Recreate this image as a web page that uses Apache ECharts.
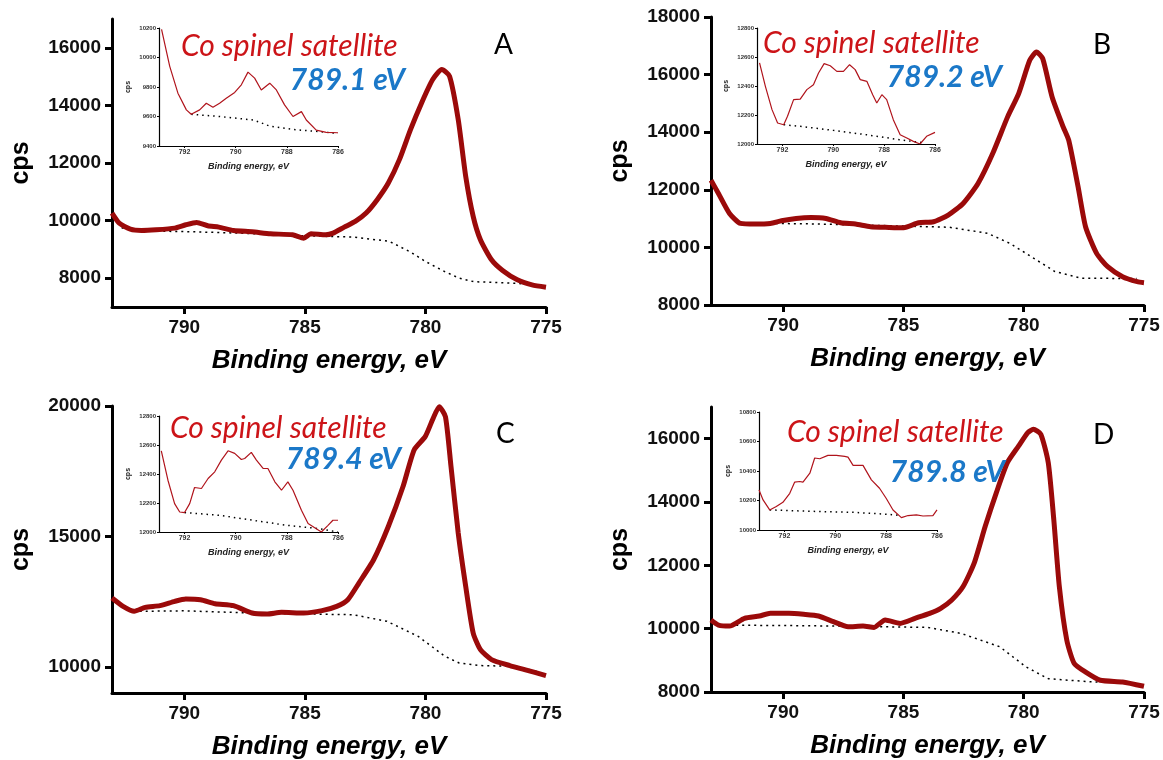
<!DOCTYPE html>
<html>
<head>
    <meta charset="utf-8" />
    <title>Co 2p3/2 XPS spectra</title>
    <script src="https://cdn.jsdelivr.net/npm/echarts@6/dist/echarts.min.js"></script>
    <style type="text/css">
        * { margin: 0; padding: 0; }
        html, body { width: 100%; height: 100%; background: #fff; }
        #chart { width: 1163px; height: 760px; }
    </style>
</head>
<body>
    <div id="chart"></div>
</body>
</html>
<script type="text/javascript">

    // main spectra, [binding energy eV, cps]
    var mainA = [[793,10261],[792.7,9913],[792.24,9704],[791.78,9658],[791.17,9681],[790.4,9739],[789.94,9855],[789.49,9936],[789.03,9820],[788.57,9774],[787.96,9658],[787.19,9612],[786.43,9542],[785.51,9507],[785.05,9391],[784.75,9542],[784.14,9507],[783.83,9565],[783.37,9774],[782.91,9971],[782.46,10261],[782.0,10725],[781.54,11304],[781.08,12116],[780.62,13159],[780.16,14087],[779.7,14899],[779.32,15246],[779.0,15014],[778.64,13507],[778.33,11536],[778.02,10145],[777.72,9333],[777.26,8638],[776.8,8267],[776.19,7942],[775.58,7768],[775.0,7687]];
    var bgA = [[792.6,9750],[792.0,9640],[790.0,9620],[787.5,9560],[785.0,9470],[783.0,9430],[781.5,9280],[780.6,8900],[780.0,8580],[779.2,8230],[778.6,8000],[778.0,7880],[776.2,7820],[775.4,7780]];
    var mainB = [[793,12335],[792.69,11873],[792.23,11179],[791.77,10832],[791.15,10809],[790.53,10832],[790.07,10925],[789.46,11006],[788.84,11040],[788.22,11006],[787.61,10855],[786.99,10809],[786.37,10717],[785.6,10694],[784.99,10682],[784.37,10855],[783.75,10890],[783.14,11121],[782.52,11526],[781.9,12220],[781.29,13260],[780.67,14532],[780.21,15341],[779.75,16497],[779.47,16786],[779.21,16555],[778.82,15225],[778.36,14185],[778.13,13723],[777.74,12104],[777.43,10717],[776.97,9792],[776.51,9329],[775.89,8983],[775.28,8809],[775.0,8775]];
    var bgB = [[791.8,10840],[789.0,10820],[786.0,10760],[783.1,10700],[781.5,10490],[780.6,10150],[779.9,9790],[778.7,9160],[777.6,8930],[775.3,8920]];
    var mainC = [[793,12640],[792.54,12321],[792.08,12130],[791.62,12283],[791.01,12347],[790.4,12513],[789.94,12602],[789.33,12577],[788.72,12423],[787.96,12347],[787.19,12066],[786.58,12028],[785.97,12092],[785.05,12066],[784.29,12156],[783.68,12321],[783.22,12577],[782.76,13214],[782.15,14107],[781.54,15383],[780.93,16913],[780.47,18316],[780.01,18827],[779.71,19464],[779.43,19974],[779.17,19592],[778.94,17679],[778.64,15128],[778.33,13087],[778.02,11301],[777.72,10663],[777.26,10281],[776.5,10051],[775.89,9898],[775.0,9668]];
    var bgC = [[792.1,12130],[790.0,12150],[787.0,12060],[785.0,12030],[783.0,12000],[781.6,11750],[780.3,11170],[779.2,10410],[778.6,10150],[777.7,10050],[776.2,10020],[775.3,9800]];
    var mainD = [[793,10273],[792.69,10114],[792.23,10082],[791.61,10326],[790.99,10400],[790.53,10484],[789.76,10484],[789.15,10452],[788.53,10400],[787.91,10220],[787.3,10061],[786.68,10082],[786.22,10040],[785.76,10273],[785.14,10167],[784.52,10326],[783.91,10484],[783.45,10643],[782.99,10907],[782.52,11330],[782.06,12070],[781.6,13233],[781.14,14290],[780.68,15241],[780.21,15770],[779.83,16192],[779.6,16298],[779.29,16140],[778.98,15241],[778.75,13444],[778.52,11330],[778.21,9638],[777.9,8899],[777.44,8634],[776.82,8370],[775.89,8317],[775.0,8180]];
    var bgD = [[792.7,10110],[790.0,10100],[787.6,10080],[784.0,10040],[782.6,9850],[781.0,9430],[779.9,8790],[778.98,8420],[777.2,8320],[776.0,8317]];

    // inset (satellite region), [binding energy eV, cps]
    var insetA = [[792.9,10190],[792.58,9940],[792.26,9758],[791.93,9645],[791.74,9615],[791.41,9645],[791.15,9690],[790.89,9663],[790.63,9690],[790.37,9724],[790.04,9763],[789.78,9815],[789.52,9901],[789.26,9860],[789.0,9780],[788.67,9826],[788.41,9780],[788.09,9679],[787.76,9600],[787.43,9633],[787.24,9576],[786.85,9508],[786.46,9492],[786.0,9490]];
    var insetBgA = [[791.74,9615],[790.63,9600],[789.3,9576],[788.67,9535],[787.76,9512],[786.7,9497],[786.0,9485]];
    var insetB = [[792.9,12559],[792.67,12398],[792.41,12237],[792.19,12145],[791.95,12133],[791.8,12191],[791.56,12306],[791.3,12310],[791.04,12375],[790.78,12409],[790.58,12490],[790.36,12554],[790.12,12540],[789.86,12501],[789.6,12501],[789.36,12547],[789.14,12513],[788.94,12444],[788.68,12432],[788.45,12340],[788.29,12283],[788.09,12340],[787.9,12306],[787.64,12168],[787.37,12064],[787.11,12041],[786.85,12018],[786.59,12000],[786.33,12053],[786.0,12080]];
    var insetBgB = [[791.95,12133],[791.3,12122],[790.0,12094],[788.7,12064],[787.4,12030],[786.4,12007]];
    var insetC = [[792.91,12560],[792.65,12357],[792.39,12196],[792.19,12138],[792.0,12134],[791.8,12196],[791.61,12307],[791.34,12300],[791.08,12369],[790.82,12415],[790.56,12496],[790.3,12560],[790.04,12542],[789.78,12500],[789.65,12507],[789.39,12549],[789.19,12496],[788.93,12438],[788.74,12438],[788.47,12346],[788.21,12288],[787.96,12346],[787.76,12288],[787.43,12150],[787.17,12058],[786.85,12023],[786.65,12000],[786.39,12046],[786.2,12081],[786.0,12081]];
    var insetBgC = [[792.0,12134],[790.63,12115],[789.33,12081],[788.0,12046],[786.72,12023],[786.0,12000]];
    var insetD = [[793,10272],[792.84,10204],[792.58,10136],[792.32,10159],[792.06,10188],[791.79,10249],[791.6,10324],[791.4,10329],[791.27,10324],[791.0,10385],[790.81,10488],[790.61,10483],[790.29,10506],[789.96,10506],[789.63,10499],[789.5,10494],[789.3,10438],[788.91,10438],[788.58,10340],[788.26,10283],[788.0,10215],[787.73,10136],[787.4,10084],[787.14,10098],[786.81,10102],[786.55,10095],[786.16,10098],[786.0,10136]];
    var insetBgD = [[792.58,10136],[790.61,10125],[789.3,10120],[788.0,10107],[787.4,10098]];

    // tick labels
    var xTicks = [790, 785, 780, 775];
    var insetXTicks = [792, 790, 788, 786];
    var yTicksA = [8000, 10000, 12000, 14000, 16000];
    var yTicksB = [8000, 10000, 12000, 14000, 16000, 18000];
    var yTicksC = [10000, 15000, 20000];
    var yTicksD = [8000, 10000, 12000, 14000, 16000];

    // texts
    var panelLetters = ['A', 'B', 'C', 'D'];
    var satellitePos = ['789.1 eV', '789.2 eV', '789.4 eV', '789.8 eV'];

    var panels = [
        { main: mainA, bg: bgA, inset: insetA, insetBg: insetBgA, yTicks: yTicksA, yMin: 7000, yMax: 17000,
          grid: { left: 112, top: 19, width: 434, height: 288 },
          insetGrid: { left: 159, top: 28, width: 179, height: 118 }, insetMin: 9400, insetMax: 10200,
          red: [181, 46], blue: [405, 80], letter: [494, 45] },
        { main: mainB, bg: bgB, inset: insetB, insetBg: insetBgB, yTicks: yTicksB, yMin: 8000, yMax: 18000,
          grid: { left: 711, top: 17, width: 433, height: 288 },
          insetGrid: { left: 757, top: 28, width: 178, height: 116 }, insetMin: 12000, insetMax: 12800,
          red: [763, 43], blue: [1002, 77], letter: [1093, 45] },
        { main: mainC, bg: bgC, inset: insetC, insetBg: insetBgC, yTicks: yTicksC, yMin: 9000, yMax: 20000,
          grid: { left: 112, top: 406, width: 434, height: 287 },
          insetGrid: { left: 159, top: 416, width: 179, height: 116 }, insetMin: 12000, insetMax: 12800,
          red: [170, 428], blue: [401, 459], letter: [496, 434] },
        { main: mainD, bg: bgD, inset: insetD, insetBg: insetBgD, yTicks: yTicksD, yMin: 8000, yMax: 17000,
          grid: { left: 711, top: 407, width: 433, height: 285 },
          insetGrid: { left: 759, top: 412, width: 178, height: 118 }, insetMin: 10000, insetMax: 10800,
          red: [787, 432], blue: [1005, 472], letter: [1093, 435] }
    ];

    function plain(v) { return String(v); }

    var grids = [], xAxes = [], yAxes = [], series = [], graphics = [];

    panels.forEach(function (p, i) {
        var g = grids.length;
        grids.push({ left: p.grid.left, top: p.grid.top, width: p.grid.width, height: p.grid.height, outerBoundsMode: 'none' });
        xAxes.push({
            gridIndex: g, type: 'value', min: 775, max: 793, inverse: true,
            axisLine: { show: true, lineStyle: { color: '#000', width: 3 } },
            axisTick: { show: true, length: 7, lineStyle: { color: '#000', width: 3 }, customValues: xTicks },
            axisLabel: { customValues: xTicks, formatter: plain, color: '#111', fontSize: 19, fontWeight: 'bold', fontFamily: 'Liberation Sans', margin: 11 },
            splitLine: { show: false },
            name: 'Binding energy, eV', nameLocation: 'middle', nameGap: 41,
            nameTextStyle: { color: '#000', fontSize: 26, fontWeight: 'bold', fontStyle: 'italic', fontFamily: 'Liberation Sans' }
        });
        yAxes.push({
            gridIndex: g, type: 'value', min: p.yMin, max: p.yMax,
            axisLine: { show: true, lineStyle: { color: '#000', width: 3 } },
            axisTick: { show: true, length: 7, lineStyle: { color: '#000', width: 3 }, customValues: p.yTicks },
            axisLabel: { customValues: p.yTicks, formatter: plain, color: '#111', fontSize: 19, fontWeight: 'bold', fontFamily: 'Liberation Sans', margin: 11 },
            splitLine: { show: false },
            name: 'cps', nameLocation: 'middle', nameRotate: 90, nameGap: 78,
            nameTextStyle: { color: '#000', fontSize: 25, fontWeight: 'bold', fontFamily: 'Liberation Sans' }
        });
        series.push({
            type: 'line', xAxisIndex: g, yAxisIndex: g, data: p.bg, showSymbol: false, z: 2,
            lineStyle: { color: '#000', width: 1.5, type: [2, 4] }
        });
        series.push({
            type: 'line', xAxisIndex: g, yAxisIndex: g, data: p.main, showSymbol: false, z: 3,
            smooth: 0.2, lineStyle: { color: '#9b0a0a', width: 5 }
        });

        // inset
        var h = grids.length;
        grids.push({ left: p.insetGrid.left, top: p.insetGrid.top, width: p.insetGrid.width, height: p.insetGrid.height, outerBoundsMode: 'none' });
        xAxes.push({
            gridIndex: h, type: 'value', min: 786, max: 793, inverse: true,
            axisLine: { show: true, lineStyle: { color: '#000', width: 1.2 } },
            axisTick: { show: true, length: 2, lineStyle: { color: '#000' }, customValues: insetXTicks },
            axisLabel: { customValues: insetXTicks, formatter: plain, color: '#333', fontSize: 7, fontWeight: 'bold', fontFamily: 'Liberation Sans', margin: 3 },
            splitLine: { show: false },
            name: 'Binding energy, eV', nameLocation: 'middle', nameGap: 16,
            nameTextStyle: { color: '#222', fontSize: 9, fontWeight: 'bold', fontStyle: 'italic', fontFamily: 'Liberation Sans' }
        });
        yAxes.push({
            gridIndex: h, type: 'value', min: p.insetMin, max: p.insetMax, interval: 200,
            axisLine: { show: true, lineStyle: { color: '#000', width: 1.2 } },
            axisTick: { show: true, length: 2, lineStyle: { color: '#000' } },
            axisLabel: { formatter: plain, color: '#333', fontSize: 6, fontWeight: 'bold', fontFamily: 'Liberation Sans', margin: 3 },
            splitLine: { show: false },
            name: 'cps', nameLocation: 'middle', nameRotate: 90, nameGap: 27,
            nameTextStyle: { color: '#222', fontSize: 7, fontWeight: 'bold', fontFamily: 'Liberation Sans' }
        });
        series.push({
            type: 'line', xAxisIndex: h, yAxisIndex: h, data: p.insetBg, showSymbol: false, z: 4,
            lineStyle: { color: '#000', width: 1.5, type: [1.5, 4] }
        });
        series.push({
            type: 'line', xAxisIndex: h, yAxisIndex: h, data: p.inset, showSymbol: false, z: 5,
            lineStyle: { color: '#b0141c', width: 1.2 }
        });

        graphics.push({
            type: 'text', x: p.red[0], y: p.red[1], z: 10,
            style: { text: 'Co spinel satellite', fill: '#cc1418', fontSize: 30, fontStyle: 'italic', fontFamily: 'Lato', verticalAlign: 'middle', align: 'left' }
        });
        graphics.push({
            type: 'text', x: p.blue[0], y: p.blue[1], z: 10,
            style: { text: satellitePos[i], fill: '#1b78c8', fontSize: 30, fontStyle: 'italic', fontWeight: 'bold', fontFamily: 'Lato', verticalAlign: 'middle', align: 'right' }
        });
        graphics.push({
            type: 'text', x: p.letter[0], y: p.letter[1], z: 10,
            style: { text: panelLetters[i], fill: '#000', fontSize: 28, fontFamily: 'Lato', verticalAlign: 'middle', align: 'left' }
        });
    });

    var myChart = echarts.init(document.getElementById('chart'));
    myChart.setOption({
        backgroundColor: '#fff',
        animation: false,
        grid: grids,
        xAxis: xAxes,
        yAxis: yAxes,
        series: series,
        graphic: graphics
    });

</script>
